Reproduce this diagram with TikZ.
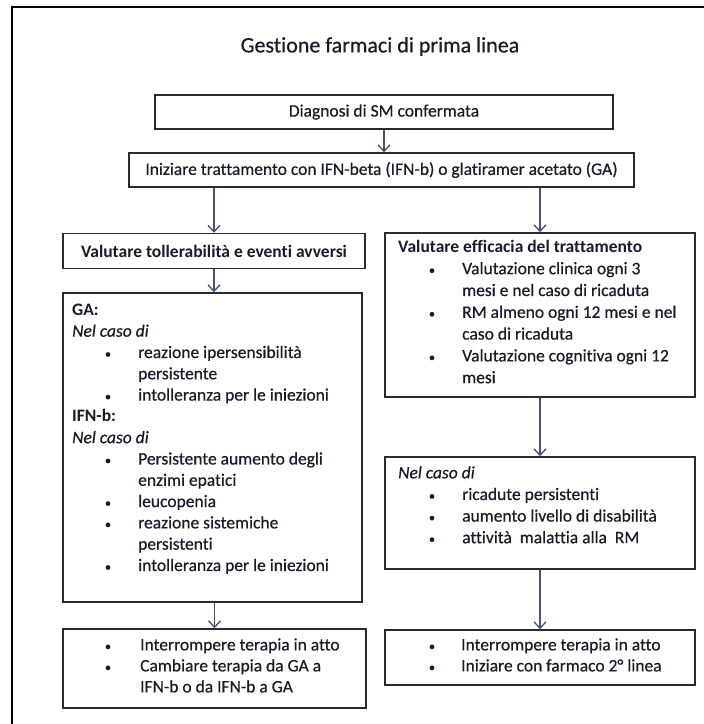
\documentclass[tikz,border=0pt]{standalone}
\usepackage{fontspec}
\setmainfont{Carlito}[Ligatures=NoCommon,
  UprightFeatures={FakeBold=0.5}, ItalicFeatures={FakeBold=0.5}]
\usetikzlibrary{arrows.meta}
\definecolor{ink}{HTML}{1A1A2C}
\definecolor{edge}{HTML}{2A2A2A}
\definecolor{flow}{HTML}{42507A}
\tikzset{
  box/.style={draw=edge, line width=1.5pt, inner sep=0pt, text=ink,
    font=\fontsize{17.5}{21}\selectfont},
  txt/.style={anchor=mid west, inner sep=0pt, text=ink,
    font=\fontsize{17.5}{21}\selectfont},
  dot/.style={anchor=mid, inner sep=0pt, text=ink,
    font=\fontsize{12.5}{12.5}\selectfont},
  flowarrow/.style={draw=flow, line width=1.3pt,
    -{Straight Barb[length=6.5pt,width=12pt]}},
}
\begin{document}
\begin{tikzpicture}[x=1pt, y=-1pt]
\useasboundingbox (0,0) rectangle (704,724);
\fill[white] (0,0) rectangle (704,724);

% page frame
\draw[line width=2.2pt, black] (12,724) -- (12,7) -- (704,7);

% title
\node[anchor=mid, inner sep=0pt, text=ink, font=\fontsize{22}{26}\selectfont]
  (title) at (380,50) {Gestione farmaci di prima linea};

% boxes
\node[box, minimum width=458pt, minimum height=34pt] (diag) at (384,112)
  {Diagnosi di SM confermata};
\node[box, minimum width=505pt, minimum height=34pt] (start) at (381.5,170)
  {Iniziare trattamento con IFN-beta (IFN-b) o glatiramer acetato (GA)};
\node[box, minimum width=302pt, minimum height=35pt] (tol) at (214,251)
  {\bfseries Valutare tollerabilità e eventi avversi};
\node[box, minimum width=299pt, minimum height=309pt] (ga) at (212.5,447.5) {};
\node[box, minimum width=303pt, minimum height=79pt] (stopL) at (214.5,668.5) {};
\node[box, minimum width=310pt, minimum height=164pt] (eff) at (540,315) {};
\node[box, minimum width=310pt, minimum height=112pt] (nel) at (540,513) {};
\node[box, minimum width=310pt, minimum height=55pt] (stopR) at (540,657.5) {};

% connectors
\draw[flowarrow] (diag.south) -- (diag.south |- start.north);
\draw[flowarrow] (start.south -| tol.north) -- (tol.north);
\draw[flowarrow] (start.south -| eff.north) -- (eff.north);
\draw[flowarrow] (tol.south) -- (tol.south |- ga.north);
\draw[flowarrow] (eff.south) -- (eff.south |- nel.north);
\draw[flowarrow] (ga.south -| stopL.north) -- (stopL.north);
\draw[flowarrow] (nel.south) -- (nel.south |- stopR.north);

% tolerability details
\node[txt] (gaA) at (72,313) {\bfseries GA:};
\node[txt] (gaB) at (72,334.3) {\itshape Nel caso di};
\node[dot] (gaC) at (108,355.6) {•};
\node[txt] (gaD) at (138,355.6) {reazione ipersensibilità};
\node[txt] (gaE) at (138,376.9) {persistente};
\node[dot] (gaF) at (108,398.2) {•};
\node[txt] (gaG) at (138,398.2) {intolleranza per le iniezioni};
\node[txt] (ifA) at (72,419.5) {\bfseries IFN-b:};
\node[txt] (ifB) at (72,440.8) {\itshape Nel caso di};
\node[dot] (ifC) at (108,462.1) {•};
\node[txt] (ifD) at (138,462.1) {Persistente aumento degli};
\node[txt] (ifE) at (138,483.4) {enzimi epatici};
\node[dot] (ifF) at (108,504.7) {•};
\node[txt] (ifG) at (138,504.7) {leucopenia};
\node[dot] (ifH) at (108,526) {•};
\node[txt] (ifI) at (138,526) {reazione sistemiche};
\node[txt] (ifJ) at (138,547.3) {persistenti};
\node[dot] (ifK) at (108,568.6) {•};
\node[txt] (ifL) at (138,568.6) {intolleranza per le iniezioni};

% efficacy checks
\node[txt] (efA) at (398,250) {\bfseries Valutare efficacia del trattamento};
\node[dot] (efB) at (432,271.8) {•};
\node[txt] (efC) at (462,271.8) {Valutazione clinica ogni 3};
\node[txt] (efD) at (462,293.6) {mesi e nel caso di ricaduta};
\node[dot] (efE) at (432,315.4) {•};
\node[txt] (efF) at (462,315.4) {RM almeno ogni 12 mesi e nel};
\node[txt] (efG) at (462,337.2) {caso di ricaduta};
\node[dot] (efH) at (432,359) {•};
\node[txt] (efI) at (462,359) {Valutazione cognitiva ogni 12};
\node[txt] (efJ) at (462,380.8) {mesi};

% failure criteria
\node[txt] (nlA) at (398,476) {\itshape Nel caso di};
\node[dot] (nlB) at (432,497.6) {•};
\node[txt] (nlC) at (462,497.6) {ricadute persistenti};
\node[dot] (nlD) at (432,519.2) {•};
\node[txt] (nlE) at (462,519.2) {aumento livello di disabilità};
\node[dot] (nlF) at (432,540.8) {•};
\node[txt] (nlG) at (462,540.8) {attività\ \ malattia alla\ \ RM};

% actions, left
\node[dot] (slA) at (108,648) {•};
\node[txt] (slB) at (140,648) {Interrompere terapia in atto};
\node[dot] (slC) at (108,669) {•};
\node[txt] (slD) at (140,669) {Cambiare terapia da GA a};
\node[txt] (slE) at (140,690) {IFN-b o da IFN-b a GA};

% actions, right
\node[dot] (srA) at (432,648) {•};
\node[txt] (srB) at (461,648) {Interrompere terapia in atto};
\node[dot] (srC) at (432,669) {•};
\node[txt] (srD) at (461,669) {Iniziare con farmaco 2° linea};
\end{tikzpicture}
\end{document}
